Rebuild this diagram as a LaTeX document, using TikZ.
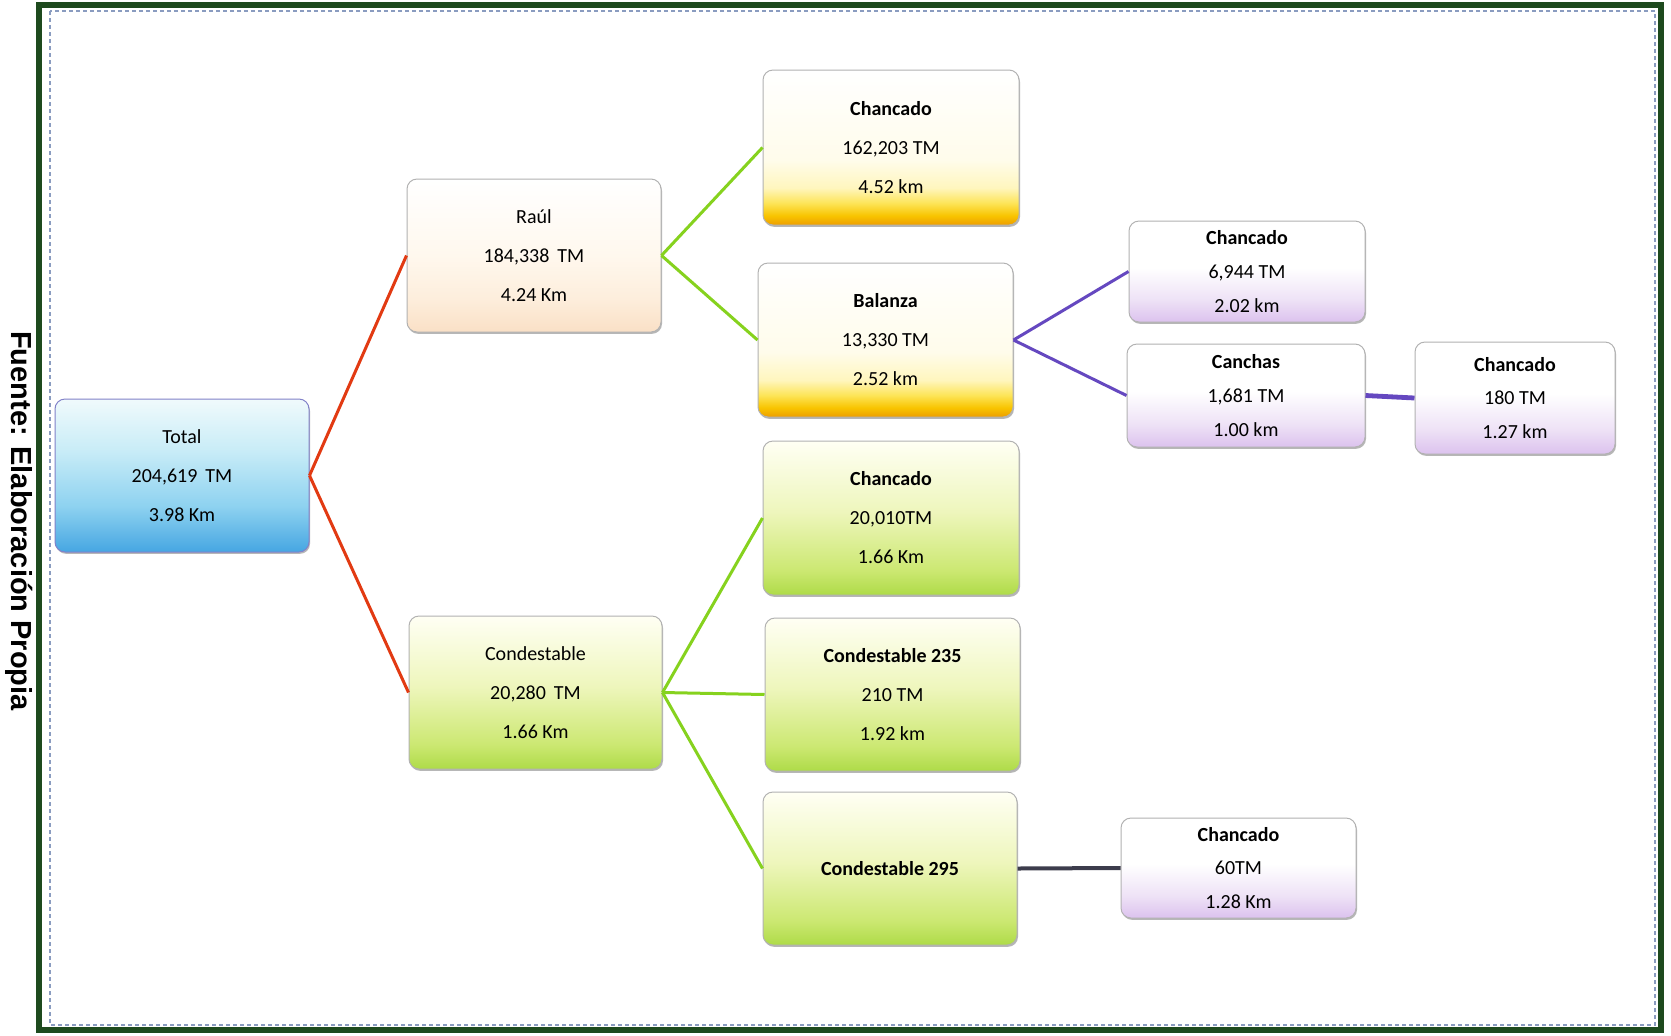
\documentclass[tikz,border=0pt]{standalone}
\usepackage{fontspec}
\setmainfont{Carlito}
\newfontfamily\arialb{Liberation Sans}
\usetikzlibrary{shadows}
\definecolor{framegreen}{HTML}{1E4A1E}
\definecolor{dashblue}{HTML}{8A9CC0}
\definecolor{redline}{HTML}{E23A12}
\definecolor{greenline}{HTML}{86D21E}
\definecolor{purpline}{HTML}{6548C0}
\definecolor{darkline}{HTML}{3C3C4C}
% blue
\definecolor{bbA}{HTML}{46A6E2}\definecolor{bbB}{HTML}{8ED2F0}\definecolor{bbC}{HTML}{C8ECF7}\definecolor{bbD}{HTML}{F0FAFC}
% peach
\definecolor{ppA}{HTML}{FAE0C6}\definecolor{ppB}{HTML}{FDEEDC}\definecolor{ppC}{HTML}{FFF8EE}\definecolor{ppD}{HTML}{FFFFFF}
% orange
\definecolor{ooA}{HTML}{EE9E00}\definecolor{ooB}{HTML}{F8C400}\definecolor{ooC}{HTML}{FDE456}\definecolor{ooD}{HTML}{FFF6BE}\definecolor{ooE}{HTML}{FFFCEB}
% green
\definecolor{ggA}{HTML}{AEDB48}\definecolor{ggB}{HTML}{CCE872}\definecolor{ggC}{HTML}{EEF6BC}\definecolor{ggD}{HTML}{FFFFF4}
% purple
\definecolor{vvA}{HTML}{DCC2EE}\definecolor{vvB}{HTML}{EEE2F6}\definecolor{vvC}{HTML}{FFFFFF}
\pgfdeclareverticalshading{bluegrad}{100bp}{color(0bp)=(bbA); color(25bp)=(bbA); color(40bp)=(bbB); color(58bp)=(bbC); color(75bp)=(bbD); color(100bp)=(bbD)}
\pgfdeclareverticalshading{peachgrad}{100bp}{color(0bp)=(ppA); color(25bp)=(ppA); color(36bp)=(ppB); color(50bp)=(ppC); color(75bp)=(ppD); color(100bp)=(ppD)}
\pgfdeclareverticalshading{orangegrad}{100bp}{color(0bp)=(ooA); color(25bp)=(ooA); color(28bp)=(ooB); color(32bp)=(ooC); color(37bp)=(ooD); color(46bp)=(ooE); color(75bp)=(white); color(100bp)=(white)}
\pgfdeclareverticalshading{greengrad}{100bp}{color(0bp)=(ggA); color(25bp)=(ggA); color(33bp)=(ggB); color(52bp)=(ggC); color(75bp)=(ggD); color(100bp)=(ggD)}
\pgfdeclareverticalshading{purplegrad}{100bp}{color(0bp)=(vvA); color(25bp)=(vvA); color(36bp)=(vvB); color(52bp)=(vvC); color(75bp)=(vvC); color(100bp)=(vvC)}
\begin{document}
\begin{tikzpicture}[x=0.5pt,y=-0.5pt,
  box/.style={rounded corners=5pt, draw=gray!60, line width=0.5pt, align=center, inner sep=0pt,
    font=\fontsize{10}{19.5}\selectfont,
    drop shadow={shadow xshift=0.5pt, shadow yshift=-0.9pt, fill=black!70, opacity=0.4}},
  smallbox/.style={box, font=\fontsize{10}{16.8}\selectfont},
  sz/.style 2 args={minimum width=#1*0.5pt, minimum height=#2*0.5pt},
  blueb/.style={shading=bluegrad, draw=blue!40!gray!70},
  peachb/.style={shading=peachgrad, draw=gray!60},
  orangeb/.style={shading=orangegrad, draw=gray!60},
  greenb/.style={shading=greengrad, draw=gray!60},
  purpleb/.style={shading=purplegrad, draw=gray!60},
  redc/.style={draw=redline, line width=1.5pt},
  greenc/.style={draw=greenline, line width=1.5pt},
  purpc/.style={draw=purpline, line width=1.5pt},
  darkc/.style={draw=darkline, line width=2pt}
]
\useasboundingbox (0,0) rectangle (1671,1035);
\fill[white] (0,0) rectangle (1671,1035);
% frame
\draw[framegreen, line width=3.4pt] (39,5) rectangle (1661,1030);
\draw[dashblue, line width=0.6pt, dash pattern=on 2pt off 1.5pt] (50,11) rectangle (1655,1025);
\node[rotate=-90, font=\arialb\bfseries\fontsize{14.5}{16}\selectfont] (fuente) at (19,521) {Fuente: Elaboración Propia};
% nodes
\node[box, blueb, sz={254}{153}] (total) at (182,475.5) {Total\\204,619\hspace{0.4em}TM\\3.98 Km};
\node[box, peachb, sz={254}{153}] (raul) at (534,255.5) {Raúl\\184,338\hspace{0.4em}TM\\4.24 Km};
\node[box, greenb, sz={253}{153}] (cond) at (535.5,692.5) {Condestable\\20,280\hspace{0.4em}TM\\1.66 Km};
\node[box, orangeb, sz={256}{155}] (ch1) at (891,147.5) {\textbf{Chancado}\\162,203 TM\\4.52 km};
\node[box, orangeb, sz={255}{154}] (bal) at (885.5,340) {\textbf{Balanza}\\13,330 TM\\2.52 km};
\node[box, greenb, sz={256}{154}] (ch2) at (891,518) {\textbf{Chancado}\\20,010TM\\1.66 Km};
\node[box, greenb, sz={255}{153}] (c235) at (892.5,694.5) {\textbf{Condestable 235}\\210 TM\\1.92 km};
\node[box, greenb, sz={254}{153}] (c295) at (890,868.5) {\textbf{Condestable 295}};
\node[smallbox, purpleb, sz={236}{101}] (ch3) at (1247,271.5) {\textbf{Chancado}\\6,944 TM\\2.02 km};
\node[smallbox, purpleb, sz={238}{103}] (can) at (1246,395.5) {\textbf{Canchas}\\1,681 TM\\1.00 km};
\node[smallbox, purpleb, sz={200}{112}] (ch4) at (1515,398) {\textbf{Chancado}\\180 TM\\1.27 km};
\node[smallbox, purpleb, sz={235}{100}] (ch5) at (1238.5,868) {\textbf{Chancado}\\60TM\\1.28 Km};
% connectors
\draw[redc] (total.east) -- (raul.west);
\draw[redc] (total.east) -- (cond.west);
\draw[greenc] (raul.east) -- (ch1.west);
\draw[greenc] (raul.east) -- (bal.west);
\draw[greenc] (cond.east) -- (ch2.west);
\draw[greenc] (cond.east) -- (c235.west);
\draw[greenc] (cond.east) -- (c295.west);
\draw[purpc] (bal.east) -- (ch3.west);
\draw[purpc] (bal.east) -- (can.west);
\draw[purpc, line width=2.4pt] (can.east) -- (ch4.west);
\draw[darkc] (c295.east) -- (ch5.west);
\end{tikzpicture}
\end{document}
